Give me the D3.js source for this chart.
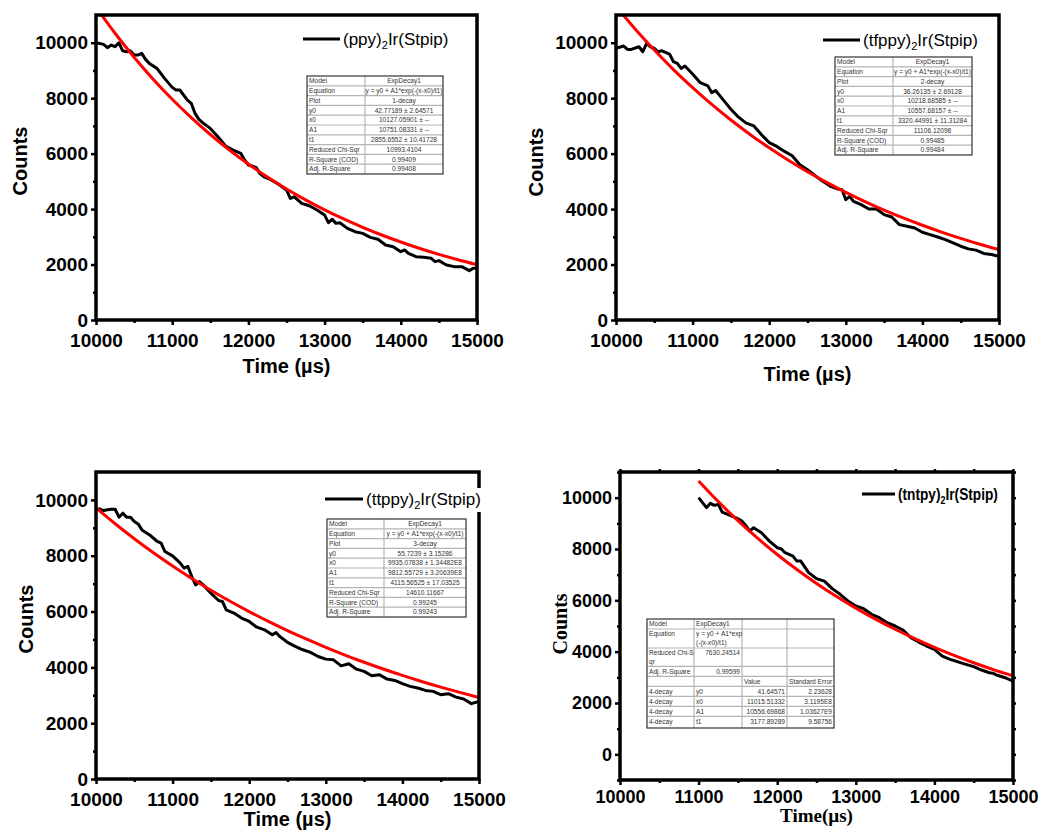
<!DOCTYPE html>
<html>
<head>
<meta charset="utf-8">
<script src="https://cdn.jsdelivr.net/npm/d3@7"></script>
<style>
  body { margin: 0; background: #fff; }
  svg { display: block; }
</style>
</head>
<body>
<svg id="chart" width="1040" height="832"></svg>
<script>
// decay traces (time in µs, counts)
var p1Time = [10000,10100,10150,10200,10250,10300,10350,10400,10450,10500,10550,10600,10650,10700,10800,10900,11000,11050,11100,11200,11250,11300,11350,11400,11500,11600,11700,11800,11900,11950,12000,12100,12150,12200,12300,12400,12500,12550,12600,12700,12800,12900,13000,13050,13100,13150,13200,13300,13400,13500,13600,13700,13800,13900,14000,14050,14100,14200,14300,14400,14450,14500,14600,14700,14800,14900,14950,15000];
var p1Counts = [10000,9940,9820,9915,9855,10000,9710,9675,9710,9555,9555,9615,9400,9255,9075,8715,8390,8295,8295,7930,7815,7450,7235,7115,6910,6610,6275,6130,6010,5770,5590,5505,5290,5170,5050,4890,4690,4385,4445,4205,4120,3965,3785,3510,3630,3485,3510,3305,3185,3125,2980,2910,2705,2645,2465,2525,2405,2285,2260,2225,2105,2140,1985,1925,1925,1780,1865,1865];

var p2Time = [10000,10100,10150,10200,10300,10350,10400,10450,10500,10550,10600,10700,10750,10800,10850,10900,11000,11100,11200,11250,11300,11400,11500,11600,11700,11800,11900,12000,12100,12200,12300,12400,12500,12600,12700,12800,12900,12950,13000,13050,13100,13200,13300,13400,13500,13600,13700,13800,13900,14000,14100,14200,14300,14400,14500,14600,14700,14800,14900,15000];
var p2Counts = [9800,9880,9760,9760,9855,9675,9975,9855,9800,9675,9710,9590,9315,9255,9075,9160,8875,8560,8440,8200,8275,7940,7600,7315,7100,7000,6680,6400,6260,6080,5925,5600,5420,5205,5000,4820,4720,4700,4340,4460,4280,4160,4005,4005,3800,3715,3440,3380,3320,3165,3080,2995,2900,2780,2660,2565,2520,2400,2360,2300];

var p3Time = [10030,10100,10150,10200,10250,10300,10350,10400,10450,10500,10550,10600,10700,10800,10850,10900,11000,11100,11150,11200,11250,11300,11350,11400,11500,11600,11650,11700,11800,11900,12000,12100,12200,12300,12350,12400,12500,12600,12700,12800,12900,13000,13100,13200,13300,13400,13500,13600,13700,13800,13900,14000,14100,14200,14300,14400,14500,14600,14700,14800,14900,15000];
var p3Counts = [9700,9620,9645,9665,9665,9380,9525,9380,9380,9225,9140,8925,8745,8510,8450,8150,7995,7735,7555,7615,7255,6955,7075,6955,6660,6395,6360,6060,5945,5765,5645,5440,5345,5165,5250,5105,4895,4750,4630,4535,4390,4295,4270,4055,4130,3935,3855,3700,3735,3580,3530,3415,3320,3260,3175,3140,3020,3055,2935,2865,2700,2780];

var p4Time = [11000,11050,11100,11150,11200,11250,11300,11400,11500,11550,11600,11650,11700,11800,11900,12000,12050,12100,12200,12250,12300,12400,12500,12600,12700,12800,12900,13000,13100,13200,13300,13400,13500,13600,13700,13800,13900,14000,14100,14200,14300,14400,14500,14600,14700,14750,14800,14900,15000];
var p4Counts = [10000,9805,9610,9780,9700,9740,9440,9310,9180,9090,8920,8700,8830,8635,8310,8050,8010,7855,7725,7530,7530,7080,6845,6750,6455,6235,5975,5780,5675,5455,5325,5130,5000,4845,4545,4375,4220,4090,3830,3700,3600,3505,3415,3285,3180,3155,3080,2985,2855];

// red fit curves
var fitTime = [10000,10250,10500,10750,11000,11250,11500,11750,12000,12250,12500,12750,13000,13250,13500,13750,14000,14250,14500,14750,15000];
var p1Fit = [11283,10341,9478,8687,7962,7299,6690,6133,5623,5155,4726,4334,3974,3644,3342,3066,2813,2580,2368,2173,1994];
var p2Fit = [11313,10495,9736,9032,8380,7775,7213,6693,6210,5762,5348,4962,4604,4273,3966,3681,3417,3172,2944,2733,2537];
var p3Fit = [9715,9146,8610,8106,7631,7185,6765,6369,5997,5647,5318,5008,4716,4441,4183,3940,3711,3495,3293,3102,2922];
var p4FitTime = [11000,11250,11500,11750,12000,12250,12500,12750,13000,13250,13500,13750,14000,14250,14500,14750,15000];
var p4Fit = [10650,9848,9106,8421,7786,7201,6659,6159,5696,5268,4873,4507,4169,3857,3569,3302,3055];

// ticks
var xMajor = [10000,11000,12000,13000,14000,15000];
var xMinor = [10500,11500,12500,13500,14500];
var yMajor = [0,2000,4000,6000,8000,10000];
var yMinor = [1000,3000,5000,7000,9000];
var yMinor4 = [-1000,1000,3000,5000,7000,9000,11000];

// fit tables
var table1 = [["Model","ExpDecay1"],["Equation","y = y0 + A1*exp(-(x-x0)/t1)"],["Plot","1-decay"],["y0","42.77189 ± 2.64571"],["x0","10127.05901 ± --"],["A1","10751.08331 ± --"],["t1","2855.6552 ± 10.41728"],["Reduced Chi-Sqr","10993.4104"],["R-Square (COD)","0.99409"],["Adj. R-Square","0.99408"]];
var table2 = [["Model","ExpDecay1"],["Equation","y = y0 + A1*exp(-(x-x0)/t1)"],["Plot","2-decay"],["y0","36.26135 ± 2.69128"],["x0","10218.68585 ± --"],["A1","10557.68157 ± --"],["t1","3320.44991 ± 11.31284"],["Reduced Chi-Sqr","11106.12098"],["R-Square (COD)","0.99485"],["Adj. R-Square","0.99484"]];
var table3 = [["Model","ExpDecay1"],["Equation","y = y0 + A1*exp(-(x-x0)/t1)"],["Plot","3-decay"],["y0","55.7239 ± 3.15286"],["x0","9935.07838 ± 1.34482E8"],["A1","9812.55729 ± 3.20639E8"],["t1","4115.56525 ± 17.03525"],["Reduced Chi-Sqr","14610.11667"],["R-Square (COD)","0.99245"],["Adj. R-Square","0.99243"]];
var table4 = [["Model","ExpDecay1","",""],["Equation","y = y0 + A1*exp|(-(x-x0)/t1)","",""],["Reduced Chi-S|qr","7630.24514","",""],["Adj. R-Square","0.99599","",""],["","","Value","Standard Error"],["4-decay","y0","41.64571","2.23628"],["4-decay","x0","11015.51332","3.1195E8"],["4-decay","A1","10556.69868","1.03627E9"],["4-decay","t1","3177.89289","9.58756"]];

var svg = d3.select("#chart");
var SANS = "'Liberation Sans', Arial, sans-serif";
var SERIF = "'Liberation Serif', 'Times New Roman', serif";

function drawPanel(p) {
  var g = svg.append("g");
  var x = d3.scaleLinear().domain([10000, 15000]).range([p.left, p.right]);
  var y = d3.scaleLinear().domain(p.yDomain).range([p.bottom, p.top]);

  g.append("clipPath").attr("id", p.id + "clip")
    .append("rect").attr("x", p.left).attr("y", p.top)
    .attr("width", p.right - p.left).attr("height", p.bottom - p.top);

  var line = d3.line().x(function(d) { return x(d[0]); }).y(function(d) { return y(d[1]); });
  var fitLine = d3.line().curve(d3.curveMonotoneX).x(function(d) { return x(d[0]); }).y(function(d) { return y(d[1]); });

  var plot = g.append("g").attr("clip-path", "url(#" + p.id + "clip)");
  plot.append("path").datum(d3.zip(p.time, p.counts))
    .attr("d", line).attr("fill", "none").attr("stroke", "#000")
    .attr("stroke-width", 3).attr("stroke-linejoin", "round");
  plot.append("path").datum(d3.zip(p.fitTime, p.fit))
    .attr("d", fitLine).attr("fill", "none").attr("stroke", "#f00")
    .attr("stroke-width", 3);

  // axes
  var fmt = d3.format("d");
  var xa = g.append("g").attr("transform", "translate(0," + p.bottom + ")")
    .call(d3.axisBottom(x).tickValues(xMajor).tickSize(5).tickFormat(fmt));
  g.append("g").attr("transform", "translate(" + p.left + ",0)")
    .call(d3.axisLeft(y).tickValues(yMajor).tickSize(5).tickPadding(3).tickFormat(fmt));
  g.append("g").attr("transform", "translate(0," + p.bottom + ")")
    .call(d3.axisBottom(x).tickValues(xMinor).tickSize(3).tickFormat(""));
  g.append("g").attr("transform", "translate(" + p.left + ",0)")
    .call(d3.axisLeft(y).tickValues(p.yMinor).tickSize(3).tickFormat(""));
  if (p.boxTicks) {
    g.append("g").attr("transform", "translate(" + p.right + ",0)")
      .call(d3.axisRight(y).tickValues(yMajor.concat(p.yMinor)).tickSize(3).tickFormat(""));
    g.append("g").attr("transform", "translate(0," + p.top + ")")
      .call(d3.axisTop(x).tickValues(xMajor.concat(xMinor)).tickSize(3).tickFormat(""));
  }
  g.selectAll(".domain").remove();
  g.selectAll(".tick line").attr("stroke", "#000").attr("stroke-width", 2.5);
  xa.selectAll("text").attr("y", p.xLabelY).attr("dy", 0);
  g.selectAll(".tick text").attr("fill", "#000").attr("font-family", SANS)
    .attr("font-weight", "bold").attr("font-size", p.tickFont + "px");

  g.append("rect").attr("x", p.left).attr("y", p.top)
    .attr("width", p.right - p.left).attr("height", p.bottom - p.top)
    .attr("fill", "none").attr("stroke", "#000").attr("stroke-width", 3.5);

  // axis titles
  g.append("text").attr("transform", "translate(" + p.countsX + "," + p.countsY + ") rotate(-90)")
    .attr("text-anchor", "middle").attr("font-family", p.titleFont).attr("font-weight", "bold")
    .attr("font-size", p.countsSize + "px").text("Counts");
  g.append("text").attr("x", (p.left + p.right) / 2).attr("y", p.timeY)
    .attr("text-anchor", "middle").attr("font-family", p.titleFont).attr("font-weight", "bold")
    .attr("font-size", p.timeSize + "px").text(p.timeLabel);

  // legend
  var lg = g.append("g");
  if (p.legendBg) {
    lg.append("rect").attr("x", p.legX2 + 1).attr("y", p.legY - 11).attr("width", p.right + 2 - p.legX2)
      .attr("height", 24).attr("fill", "#fff");
  }
  lg.append("line").attr("x1", p.legX1).attr("x2", p.legX2).attr("y1", p.legY).attr("y2", p.legY)
    .attr("stroke", "#000").attr("stroke-width", 3);
  var lt = lg.append("text")
    .attr("font-family", p.legFont).attr("font-size", p.legSize + "px")
    .attr("font-weight", p.legWeight);
  lt.append("tspan").text(p.name[0]);
  lt.append("tspan").attr("dy", 4).attr("font-size", (p.legSize * 0.65) + "px").text("2");
  lt.append("tspan").attr("dy", -4).text(p.name[1]);
  var sx = 1;
  if (p.legWidth) sx = p.legWidth / lt.node().getComputedTextLength();
  lt.attr("transform", "translate(" + (p.legX2 + 3) + "," + (p.legY + 6) + ") scale(" + sx + ",1)");

  drawTable(g, p.table, p.tx, p.ty, p.tcols, p.trows, p.talign);
}

function drawTable(g, rows, tx, ty, cols, rowEdges, align) {
  var t = g.append("g");
  var w = cols[cols.length - 1] - cols[0];
  var h = rowEdges[rowEdges.length - 1] - rowEdges[0];
  t.append("rect").attr("x", tx + cols[0]).attr("y", ty + rowEdges[0]).attr("width", w).attr("height", h)
    .attr("fill", "#fff");
  rowEdges.slice(1, -1).forEach(function(r) {
    t.append("line").attr("x1", tx + cols[0]).attr("x2", tx + cols[cols.length - 1])
      .attr("y1", ty + r).attr("y2", ty + r).attr("stroke", "#b4b4b4").attr("stroke-width", 1.2);
  });
  cols.slice(1, -1).forEach(function(c) {
    t.append("line").attr("x1", tx + c).attr("x2", tx + c)
      .attr("y1", ty + rowEdges[0]).attr("y2", ty + rowEdges[rowEdges.length - 1])
      .attr("stroke", "#b4b4b4").attr("stroke-width", 1.2);
  });
  t.append("rect").attr("x", tx + cols[0]).attr("y", ty + rowEdges[0]).attr("width", w).attr("height", h)
    .attr("fill", "none").attr("stroke", "#333").attr("stroke-width", 1.2);
  rows.forEach(function(row, i) {
    row.forEach(function(cell, j) {
      if (!cell) return;
      var a = align[j] || "start";
      if (a === "auto") a = isNaN(+cell) ? "start" : "end";
      var cx = a === "middle" ? (cols[j] + cols[j + 1]) / 2 : a === "end" ? cols[j + 1] - 2 : cols[j] + 2;
      var lines = cell.split("|");
      lines.forEach(function(s, k) {
        t.append("text").attr("x", tx + cx).attr("y", ty + rowEdges[i] + 7.2 + k * 8.5)
          .attr("text-anchor", a).attr("font-family", SANS).attr("font-size", "6.6px")
          .attr("fill", "#333").text(s);
      });
    });
  });
}

var rows10 = [0, 9.8, 19.6, 29.4, 39.2, 49, 58.8, 68.6, 78.4, 88.2, 98];
var common = { yMinor: yMinor, xLabelY: 27, tickFont: 19, titleFont: SANS, countsSize: 20, timeSize: 20,
  timeLabel: "Time (\u00b5s)", legFont: SANS, legSize: 17, legWeight: "normal", talign: ["start", "middle"], trows: rows10 };

drawPanel(Object.assign({}, common, {
  id: "p1", left: 96, right: 477, top: 15, bottom: 320, yDomain: [0, 11000],
  time: p1Time, counts: p1Counts, fitTime: fitTime, fit: p1Fit,
  countsX: 27, countsY: 161, timeY: 373,
  legX1: 303, legX2: 340, legY: 39, name: ["(ppy)", "Ir(Stpip)"],
  table: table1, tx: 307, ty: 76, tcols: [0, 58, 136]
}));
drawPanel(Object.assign({}, common, {
  id: "p2", left: 616, right: 999, top: 15, bottom: 320, yDomain: [0, 11000],
  time: p2Time, counts: p2Counts, fitTime: fitTime, fit: p2Fit,
  countsX: 543, countsY: 162, timeY: 381,
  legX1: 823, legX2: 860, legY: 40, name: ["(tfppy)", "Ir(Stpip)"],
  table: table2, tx: 835, ty: 57, tcols: [0, 58, 137]
}));
drawPanel(Object.assign({}, common, {
  id: "p3", left: 96, right: 479, top: 472, bottom: 779, yDomain: [0, 11000],
  time: p3Time, counts: p3Counts, fitTime: fitTime, fit: p3Fit,
  countsX: 33, countsY: 619, timeY: 826,
  legX1: 325, legX2: 363, legY: 499, name: ["(ttppy)", "Ir(Stpip)"], legendBg: true,
  table: table3, tx: 327, ty: 519, tcols: [0, 57, 139]
}));
drawPanel(Object.assign({}, common, {
  id: "p4", left: 620, right: 1013, top: 472, bottom: 780, yDomain: [-1000, 11000], yMinor: yMinor4,
  time: p4Time, counts: p4Counts, fitTime: p4FitTime, fit: p4Fit, boxTicks: true,
  xLabelY: 23, tickFont: 18, titleFont: SERIF, countsSize: 20, timeSize: 19, timeLabel: "Time(\u00b5s)",
  countsX: 567, countsY: 624, timeY: 822,
  legX1: 862, legX2: 895, legY: 494, name: ["(tntpy)", "Ir(Stpip)"],
  legFont: SANS, legSize: 16, legWeight: "bold", legWidth: 100,
  table: table4, tx: 647, ty: 619, tcols: [0, 47, 95, 140, 187],
  trows: [0, 10, 29, 47.4, 57.4, 67.4, 77.4, 87.4, 97.4, 109],
  talign: ["start", "auto", "auto", "auto"]
}));
</script>
</body>
</html>
